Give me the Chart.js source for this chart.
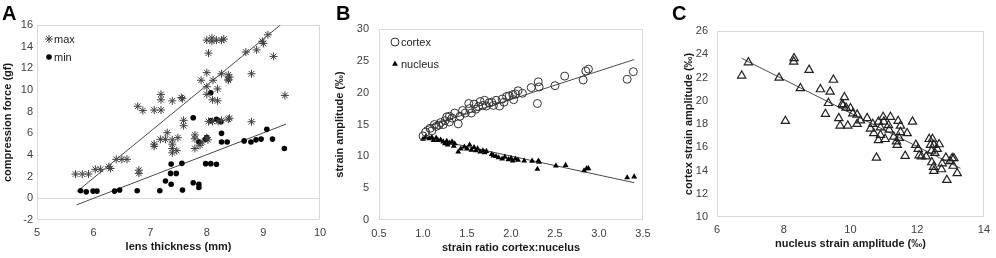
<!DOCTYPE html>
<html>
<head>
<meta charset="utf-8">
<script src="https://cdn.jsdelivr.net/npm/chart.js"></script>
<style>
  body { margin: 0; background: #fff; }
  #wrap { position: relative; width: 996px; height: 258px; overflow: hidden; }
  .panel { position: absolute; top: 0; }
  .letter { position: absolute; top: 3px; font: bold 20px/20px 'Liberation Sans', Arial, sans-serif; color: #000; }
</style>
</head>
<body>
<div id="wrap">
  <canvas id="chartA" class="panel" width="333" height="258" style="left:0px"></canvas>
  <canvas id="chartB" class="panel" width="330" height="258" style="left:333px"></canvas>
  <canvas id="chartC" class="panel" width="333" height="258" style="left:663px"></canvas>
  <div class="letter" style="left:2px">A</div>
  <div class="letter" style="left:336px">B</div>
  <div class="letter" style="left:672px">C</div>
</div>
<script>
// ---- Panel A: compression force (gf) vs lens thickness (mm), [x, y] pairs
const aMax = [
  [5.68, 2.24], [5.8, 2.24], [5.91, 2.24], [6.03, 2.68], [6.12, 2.68], [6.27, 2.92], [6.3, 2.75],
  [6.4, 3.6], [6.5, 3.6], [6.59, 3.6], [6.8, 2.6], [6.8, 2.3], [6.78, 8.5], [6.87, 8.1],
  [7.07, 8.15], [7.19, 8.15], [7.19, 9.6], [7.19, 9.1], [7.39, 9.0], [7.55, 9.3], [7.57, 9.2],
  [7.07, 5.0], [7.07, 4.8], [7.18, 5.45], [7.27, 5.45], [7.3, 6.06], [7.39, 5.4], [7.39, 5.0],
  [7.39, 4.6], [7.39, 4.2], [7.49, 5.6], [7.47, 4.4], [7.59, 7.2], [7.59, 6.7], [7.79, 5.85],
  [7.79, 5.5], [7.79, 4.6], [7.88, 4.9], [7.92, 5.2], [8.0, 5.6], [8.02, 5.4], [8.03, 7.1],
  [8.1, 7.1], [8.26, 7.2], [8.2, 7.1], [8.38, 7.3], [8.4, 7.4], [8.79, 7.07], [8.0, 14.6],
  [8.09, 14.8], [8.09, 14.5], [8.17, 14.6], [8.26, 14.6], [8.3, 14.7], [8.03, 13.4], [8.0, 11.6],
  [7.9, 10.9], [8.11, 10.9], [8.0, 10.3], [8.19, 10.1], [8.0, 9.6], [8.1, 9.1], [8.19, 9.0],
  [8.26, 11.5], [8.38, 11.4], [8.38, 11.0], [8.38, 10.9], [8.4, 11.2], [8.69, 13.5], [8.88, 13.7],
  [8.98, 14.5], [9.0, 14.3], [9.08, 15.1], [9.18, 13.1], [8.79, 11.5], [9.38, 9.5]
];
const aMin = [
  [5.77, 0.7], [5.87, 0.6], [5.99, 0.67], [6.06, 0.67], [6.37, 0.67], [6.46, 0.77], [6.77, 0.7],
  [7.17, 0.7], [7.27, 1.6], [7.37, 1.3], [7.37, 3.17], [7.36, 2.3], [7.46, 2.3], [7.56, 3.23],
  [7.57, 0.77], [7.76, 7.44], [7.76, 1.44], [7.86, 1.3], [7.86, 1.0], [8.07, 9.75], [8.07, 7.17],
  [8.17, 7.3], [8.25, 7.07], [8.2, 7.2], [7.86, 5.2], [7.98, 5.45], [8.0, 5.6], [8.26, 6.0],
  [8.26, 5.2], [8.36, 5.2], [7.98, 3.2], [8.07, 3.2], [8.17, 3.15], [8.66, 5.3], [8.78, 5.2],
  [8.87, 5.4], [8.96, 5.47], [9.06, 6.37], [9.16, 5.47], [9.37, 4.6]
];
const aMaxFit = [[5.7, 0.6], [9.3, 16.0]];
const aMinFit = [[5.7, -0.6], [9.4, 6.85]];

// ---- Panel B: strain amplitude (‰) vs strain ratio cortex:nucleus
const bCortex = [
  [1.0, 13.2], [1.03, 13.8], [1.08, 14.4], [1.1, 14.0], [1.13, 15.0], [1.15, 14.7], [1.18, 14.9],
  [1.2, 15.3], [1.23, 15.0], [1.25, 15.6], [1.27, 16.2], [1.3, 16.3], [1.3, 15.4], [1.33, 16.0],
  [1.36, 16.8], [1.4, 15.1], [1.42, 16.3], [1.45, 17.2], [1.48, 16.8], [1.52, 18.3], [1.53, 17.5],
  [1.55, 16.8], [1.58, 18.2], [1.6, 17.4], [1.63, 17.8], [1.65, 18.6], [1.68, 18.0], [1.7, 18.8],
  [1.72, 17.9], [1.75, 18.4], [1.78, 18.5], [1.8, 18.0], [1.83, 18.8], [1.87, 17.9], [1.9, 19.0],
  [1.92, 18.5], [1.95, 19.4], [1.98, 19.5], [2.02, 19.7], [2.03, 18.9], [2.05, 19.8], [2.08, 20.3],
  [2.13, 19.9], [2.23, 20.8], [2.31, 21.7], [2.32, 20.9], [2.3, 18.3], [2.5, 21.1], [2.61, 22.6],
  [2.82, 22.0], [2.85, 23.4], [2.88, 23.7], [3.32, 22.1], [3.39, 23.3]
];
const bNucleus = [
  [1.0, 12.7], [1.03, 13.0], [1.07, 12.8], [1.1, 13.0], [1.12, 12.5], [1.15, 12.9], [1.17, 12.5],
  [1.2, 12.6], [1.23, 12.3], [1.25, 12.0], [1.27, 12.4], [1.28, 11.8], [1.3, 12.1], [1.33, 12.3],
  [1.35, 11.6], [1.36, 12.0], [1.4, 10.7], [1.43, 11.2], [1.47, 11.5], [1.5, 11.2], [1.53, 11.8],
  [1.55, 11.0], [1.58, 11.4], [1.6, 10.9], [1.62, 11.2], [1.65, 10.7], [1.68, 10.9], [1.7, 10.6],
  [1.72, 10.8], [1.78, 10.3], [1.8, 10.1], [1.83, 10.0], [1.86, 9.8], [1.9, 9.6], [1.93, 9.9],
  [1.97, 9.5], [2.0, 9.7], [2.02, 9.3], [2.05, 9.6], [2.08, 9.4], [2.15, 9.3], [2.24, 9.27],
  [2.31, 9.27], [2.32, 9.1], [2.3, 8.0], [2.51, 8.5], [2.62, 8.6], [2.83, 7.75], [2.86, 8.1],
  [2.88, 8.1], [3.32, 6.65], [3.4, 6.8]
];
const bCortexFit = [[1.01, 14.5], [3.4, 25.2]];
const bNucleusFit = [[1.01, 13.0], [3.4, 5.86]];

// ---- Panel C: cortex strain amplitude (‰) vs nucleus strain amplitude (‰)
const cPoints = [
  [6.74, 22.16], [6.94, 23.3], [7.86, 21.98], [8.05, 18.26], [8.3, 23.36], [8.31, 23.65],
  [8.5, 21.07], [8.76, 22.65], [9.1, 20.98], [9.25, 18.86], [9.34, 19.8], [9.39, 20.78],
  [9.49, 21.8], [9.65, 18.5], [9.69, 17.86], [9.75, 19.7], [9.78, 19.6], [9.82, 20.3],
  [9.87, 19.4], [9.92, 17.86], [10.0, 19.35], [10.07, 18.9], [10.2, 18.8], [10.3, 18.3],
  [10.2, 18.0], [10.5, 18.5], [10.6, 17.6], [10.67, 18.0], [10.7, 17.2], [10.84, 18.2],
  [10.9, 17.7], [10.98, 18.6], [11.0, 18.2], [10.84, 16.6], [10.9, 17.05], [11.04, 16.7],
  [10.78, 15.1], [11.14, 17.9], [11.2, 18.6], [11.16, 17.5], [11.3, 16.9], [11.4, 16.2],
  [11.38, 16.5], [11.43, 18.26], [11.5, 17.85], [11.5, 17.3], [11.46, 16.8], [11.7, 17.2],
  [11.86, 18.2], [11.64, 15.25], [11.96, 16.2], [12.03, 15.85], [12.06, 15.3], [12.13, 15.2],
  [12.27, 15.2], [12.36, 16.7], [12.46, 16.7], [12.4, 16.2], [12.5, 16.2], [12.43, 15.7],
  [12.53, 15.5], [12.66, 16.25], [12.6, 15.85], [12.44, 14.7], [12.49, 14.3], [12.5, 13.96],
  [12.75, 14.6], [12.73, 14.1], [12.86, 15.1], [12.99, 14.8], [13.05, 15.05], [13.1, 15.05],
  [13.08, 14.4], [13.2, 13.76], [12.89, 13.18]
];
const cFit = [[6.74, 23.65], [13.3, 14.19]];

// turn [x, y] pairs into chart.js point objects
const toXY = pairs => pairs.map(p => ({ x: p[0], y: p[1] }));

Chart.defaults.font.family = "'Liberation Sans', Arial, sans-serif";
Chart.defaults.font.size = 11;
Chart.defaults.color = '#333';

const lineColor = '#4a4a4a';
const frameColor = '#d9d9d9';

// light grey box round the plot area (Excel style)
const plotFrame = {
  id: 'plotFrame',
  beforeDatasetsDraw(chart) {
    const a = chart.chartArea;
    const ctx = chart.ctx;
    ctx.save();
    ctx.strokeStyle = frameColor;
    ctx.lineWidth = 1;
    ctx.strokeRect(Math.round(a.left) + 0.5, Math.round(a.top) + 0.5,
      Math.round(a.right - a.left) - 1, Math.round(a.bottom - a.top) - 1);
    ctx.restore();
  }
};

// legend drawn inside the plot area, one row per dataset
const insideLegend = {
  id: 'insideLegend',
  afterDatasetsDraw(chart, args, opts) {
    if (!opts.items) return;
    const ctx = chart.ctx;
    const a = chart.chartArea;
    ctx.save();
    ctx.font = "11px 'Liberation Sans', Arial, sans-serif";
    ctx.textBaseline = 'middle';
    opts.items.forEach((idx, i) => {
      const ds = chart.data.datasets[idx];
      const x = a.left + opts.x;
      const y = a.top + opts.y + i * opts.rowGap;
      ctx.fillStyle = ds.pointBackgroundColor;
      ctx.strokeStyle = ds.pointBorderColor;
      ctx.lineWidth = ds.pointBorderWidth;
      Chart.helpers.drawPoint(ctx, {
        pointStyle: ds.pointStyle, radius: ds.pointRadius,
        borderWidth: ds.pointBorderWidth, rotation: 0
      }, x, y);
      ctx.fillStyle = '#222';
      ctx.fillText(ds.label, x + opts.textGap, y + 0.5);
    });
    ctx.restore();
  }
};

function pointSet(label, data, style, radius, fill, border, width) {
  return {
    label, data: toXY(data), showLine: false,
    pointStyle: style, pointRadius: radius, pointHoverRadius: radius,
    pointBackgroundColor: fill, pointBorderColor: border, pointBorderWidth: width
  };
}

function fitLine(data) {
  return {
    label: '', data: toXY(data), showLine: true, pointRadius: 0,
    borderColor: lineColor, borderWidth: 1, fill: false
  };
}

function axis(min, max, step, title, box, tickPad, titlePad, isX, zeroLine) {
  return {
    type: 'linear', min, max,
    ticks: { stepSize: step, padding: tickPad, color: '#404040' },
    grid: zeroLine
      ? { drawTicks: false, color: c => (c.tick && c.tick.value === 0 ? frameColor : 'rgba(0,0,0,0)') }
      : { display: false, drawTicks: false },
    border: { display: false },
    title: {
      display: true, text: title, color: '#1a1a1a',
      font: { weight: 'bold', size: 11 },
      padding: isX ? { top: 0, bottom: titlePad } : { top: titlePad, bottom: 0 }
    },
    afterFit: s => { if (isX) s.height = box; else s.width = box; }
  };
}

function makeChart(id, datasets, scales, padding, legend) {
  return new Chart(document.getElementById(id), {
    type: 'scatter',
    data: { datasets },
    options: {
      responsive: false,
      animation: false,
      layout: { padding },
      plugins: {
        legend: { display: false },
        tooltip: { enabled: false },
        insideLegend: legend || {}
      },
      scales
    },
    plugins: [plotFrame, insideLegend]
  });
}

// Panel A
makeChart('chartA', [
  pointSet('max', aMax, 'star', 4, '#404040', '#404040', 1),
  pointSet('min', aMin, 'circle', 2.8, '#000', '#000', 0),
  fitLine(aMaxFit),
  fitLine(aMinFit)
], {
  x: axis(5, 10, 1, 'lens thickness (mm)', 38, 6, 4, true, false),
  y: axis(-2, 16, 2, 'compression force (gf)', 37, 4, 1, false, true)
}, { left: 0, top: 25, right: 13, bottom: 0 },
{ items: [0, 1], x: 12, y: 14, rowGap: 18, textGap: 5 });

// Panel B
makeChart('chartB', [
  pointSet('cortex', bCortex, 'circle', 4, 'rgba(0,0,0,0)', '#333', 1),
  pointSet('nucleus', bNucleus, 'triangle', 3.4, '#000', '#000', 0),
  fitLine(bCortexFit),
  fitLine(bNucleusFit)
], {
  x: axis(0.5, 3.5, 0.5, 'strain ratio cortex:nucelus', 38, 7, 3, true, false),
  y: axis(0, 30, 5, 'strain amplitude (‰)', 46, 10, 0, false, false)
}, { left: 0, top: 29, right: 20, bottom: 0 },
{ items: [0, 1], x: 16, y: 13, rowGap: 22, textGap: 6 });

// Panel C
makeChart('chartC', [
  pointSet('cortex vs nucleus', cPoints, 'triangle', 4.8, 'rgba(0,0,0,0)', '#222', 1.2),
  fitLine(cFit)
], {
  x: axis(6, 14, 2, 'nucleus strain amplitude (‰)', 41, 6, 7, true, false),
  y: axis(10, 26, 2, 'cortex strain amplitude (‰)', 36, 9, 1, false, false)
}, { left: 18, top: 31, right: 11, bottom: 0 });
</script>
</body>
</html>
